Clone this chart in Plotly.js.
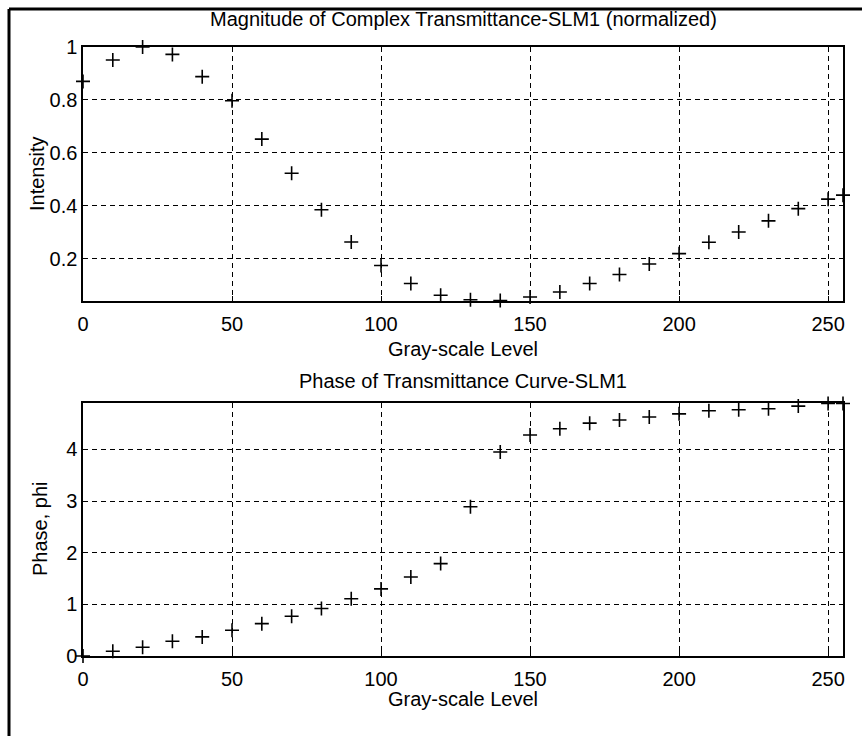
<!DOCTYPE html>
<html>
<head>
<meta charset="utf-8">
<script src="https://cdn.plot.ly/plotly-3.0.1.min.js"></script>
<style>html,body{margin:0;padding:0;background:#fff;}#chart{width:862px;height:736px;}</style>
</head>
<body>
<div id="chart"></div>
<script>
// Gray-scale levels (x) shared by both panels
const grayLevels = [0,10,20,30,40,50,60,70,80,90,100,110,120,130,140,150,160,170,180,190,200,210,220,230,240,250,255];
// Normalized magnitude of complex transmittance
const intensity = [0.87,0.951,1.0,0.972,0.888,0.797,0.652,0.523,0.385,0.263,0.174,0.106,0.062,0.045,0.042,0.055,0.074,0.106,0.140,0.180,0.219,0.262,0.301,0.343,0.389,0.425,0.44];
// Phase of transmittance (radians)
const phase = [0.0,0.093,0.17,0.286,0.37,0.50,0.627,0.77,0.92,1.11,1.30,1.53,1.79,2.89,3.95,4.28,4.40,4.51,4.57,4.63,4.69,4.75,4.77,4.79,4.84,4.89,4.89];

const xTicks = [0,50,100,150,200,250];
const yTicksTop = [0.2,0.4,0.6,0.8,1];
const yTickTextTop = ['0.2','0.4','0.6','0.8','1'];
const yTicksBottom = [0,1,2,3,4];

const titleTop = 'Magnitude of Complex Transmittance-SLM1 (normalized)';
const titleBottom = 'Phase of Transmittance Curve-SLM1';
const xLabel = 'Gray-scale Level';
const yLabelTop = 'Intensity';
const yLabelBottom = 'Phase, phi';

const FONT = 'Liberation Sans, Arial, sans-serif';
const marker = {symbol:'cross-thin', size:10, color:'#000', line:{color:'#000', width:1.6}};

const traces = [
  {x: grayLevels, y: intensity, type:'scatter', mode:'markers', marker: marker, xaxis:'x', yaxis:'y', cliponaxis:false},
  {x: grayLevels, y: phase, type:'scatter', mode:'markers', marker: marker, xaxis:'x2', yaxis:'y2', cliponaxis:false}
];

// pixel helpers (plot area: left 83, right 843, top 47, bottom 656)
const L=83, R=843, T=47, B=656;
const px = p => (p - L) / (R - L);
const py = p => (B - p) / (B - T);

const axisCommon = {
  showline:true, linecolor:'#000', linewidth:1.6, mirror:true,
  ticks:'inside', ticklen:5, tickcolor:'#000', tickwidth:1,
  showgrid:true, gridcolor:'#000', gridwidth:1, griddash:'5px,4px',
  zeroline:false,
  tickfont:{family:FONT, size:20, color:'#000'}
};

const layout = {
  width:862, height:736,
  margin:{l:L, r:862-R, t:T, b:736-B},
  paper_bgcolor:'#fff', plot_bgcolor:'#fff',
  showlegend:false,
  font:{family:FONT, color:'#000'},
  xaxis: Object.assign({}, axisCommon, {domain:[0,1], range:[0,255], tickvals:xTicks, anchor:'y', ticklabelstandoff:4}),
  yaxis: Object.assign({}, axisCommon, {domain:[py(301),1], range:[0.04,1], tickvals:yTicksTop, ticktext:yTickTextTop, anchor:'x'}),
  xaxis2: Object.assign({}, axisCommon, {domain:[0,1], range:[0,255], tickvals:xTicks, anchor:'y2', ticklabelstandoff:4}),
  yaxis2: Object.assign({}, axisCommon, {domain:[0,py(403)], range:[0,4.9], tickvals:yTicksBottom, anchor:'x2'}),
  annotations: [
    {text:titleTop, xref:'paper', yref:'paper', x:px(463), y:py(19), showarrow:false, xanchor:'center', yanchor:'middle', font:{family:FONT, size:20, color:'#000'}},
    {text:titleBottom, xref:'paper', yref:'paper', x:px(463), y:py(381), showarrow:false, xanchor:'center', yanchor:'middle', font:{family:FONT, size:20, color:'#000'}},
    {text:xLabel, xref:'paper', yref:'paper', x:px(463), y:py(349), showarrow:false, xanchor:'center', yanchor:'middle', font:{family:FONT, size:20, color:'#000'}},
    {text:xLabel, xref:'paper', yref:'paper', x:px(463), y:py(699), showarrow:false, xanchor:'center', yanchor:'middle', font:{family:FONT, size:20, color:'#000'}},
    {text:yLabelTop, xref:'paper', yref:'paper', x:px(37), y:py(174), showarrow:false, xanchor:'center', yanchor:'middle', textangle:-90, font:{family:FONT, size:20, color:'#000'}},
    {text:yLabelBottom, xref:'paper', yref:'paper', x:px(40), y:py(529), showarrow:false, xanchor:'center', yanchor:'middle', textangle:-90, font:{family:FONT, size:20, color:'#000'}}
  ],
  shapes: [
    {type:'line', xref:'paper', yref:'paper', x0:px(9), x1:px(870), y0:py(9), y1:py(9), line:{color:'#000', width:3}},
    {type:'line', xref:'paper', yref:'paper', x0:px(9), x1:px(9), y0:py(9), y1:py(745), line:{color:'#000', width:3}}
  ]
};

Plotly.newPlot('chart', traces, layout, {staticPlot:true, displayModeBar:false});
</script>
</body>
</html>
